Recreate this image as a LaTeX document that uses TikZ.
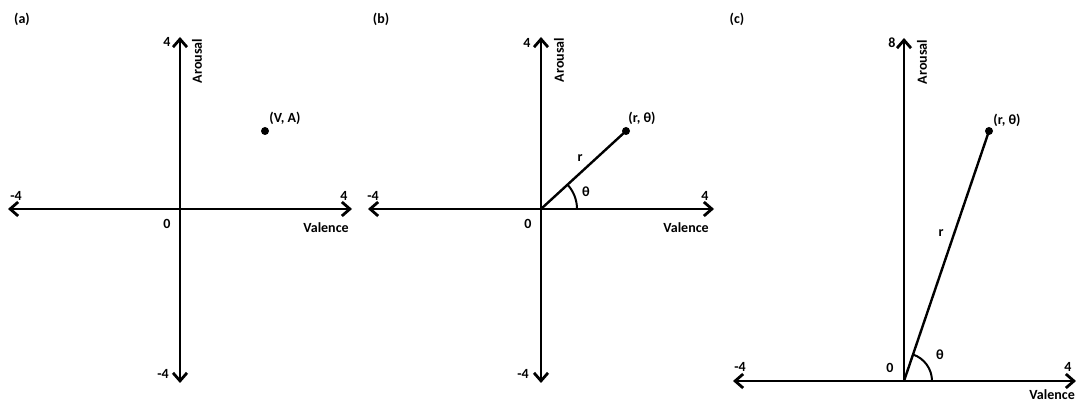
\documentclass[tikz,border=0pt]{standalone}
\usepackage{fontspec}
\setmainfont{Carlito}
\usetikzlibrary{arrows.meta,angles}

\tikzset{
  axis/.style={line width=2.8pt, <->},
  radius line/.style={line width=2.4pt},
  anglearc/.style={draw, line width=2pt},
  lbl/.style={font=\bfseries\fontsize{14}{16}\selectfont, inner sep=0pt},
}

\begin{document}
\begin{tikzpicture}[x=1pt, y=1pt, >={Straight Barb[length=8pt,width=14pt]}, every node/.style={lbl}]
	\useasboundingbox (0,0) rectangle (1076,401);
	% (a) valence--arousal plane
	\coordinate (oa) at (180,192);
	\coordinate (ta) at (180,364); \coordinate (ba) at (180,18);
	\coordinate (la) at (8,192);   \coordinate (ra) at (352,192);
	\coordinate (pa) at (265,270);
	\draw[axis] (la) -- (ra);
	\draw[axis] (ba) -- (ta);
	\fill (pa) circle (4);
	\node (capa) at (22,382) {(a)};
	\node (topa) at (167,359) {4};
	\node[rotate=90] (aroa) at (197,340) {Arousal};
	\node (lefta) at (16,205) {-4};
	\node (righta) at (344,205) {4};
	\node (zeroa) at (167,177) {0};
	\node (vala) at (326,173) {Valence};
	\node (bota) at (163,27) {-4};
	\node (ptla) at (285,283) {(V, A)};
	% (b) polar form
	\coordinate (ob) at (541,192);
	\coordinate (tb) at (541,364); \coordinate (bb) at (541,18);
	\coordinate (lb) at (368,192); \coordinate (rb) at (714,192);
	\coordinate (pb) at (626,270);
	\draw[axis] (lb) -- (rb);
	\draw[axis] (bb) -- (tb);
	\draw[radius line] (ob) -- (pb);
	\fill (pb) circle (4);
	\pic[anglearc, angle radius=36pt] {angle=rb--ob--pb};
	\node (capb) at (381,382) {(b)};
	\node (topb) at (527,358) {4};
	\node[rotate=90] (arob) at (559,341) {Arousal};
	\node (leftb) at (373,205) {-4};
	\node (rightb) at (705,205) {4};
	\node (zerob) at (528,177) {0};
	\node (valb) at (686,173) {Valence};
	\node (botb) at (523,27) {-4};
	\node (ptlb) at (642,283) {(r, θ)};
	\node (rb lbl) at (580,243) {r};
	\node (thb) at (586,209) {θ};
	% (c) upper half only
	\coordinate (oc) at (904,20);
	\coordinate (tc) at (904,363);
	\coordinate (lc) at (733,20); \coordinate (rc) at (1076,20);
	\coordinate (pc) at (989,270);
	\draw[axis] (lc) -- (rc);
	\draw[axis, <-] (tc) -- (oc);
	\draw[radius line] (oc) -- (pc);
	\fill (pc) circle (4);
	\pic[anglearc, angle radius=28pt] {angle=rc--oc--pc};
	\node (capc) at (737,382) {(c)};
	\node (topc) at (892,358) {8};
	\node[rotate=90] (aroc) at (922,339) {Arousal};
	\node (leftc) at (740,34) {-4};
	\node (rightc) at (1068,34) {4};
	\node (zeroc) at (890,33) {0};
	\node[anchor=south east] (valc) at (1075,1.5) {Valence};
	\node (ptlc) at (1007,281) {(r, θ)};
	\node (rc lbl) at (941,168) {r};
	\node (thc) at (940,46) {θ};
\end{tikzpicture}
\end{document}
